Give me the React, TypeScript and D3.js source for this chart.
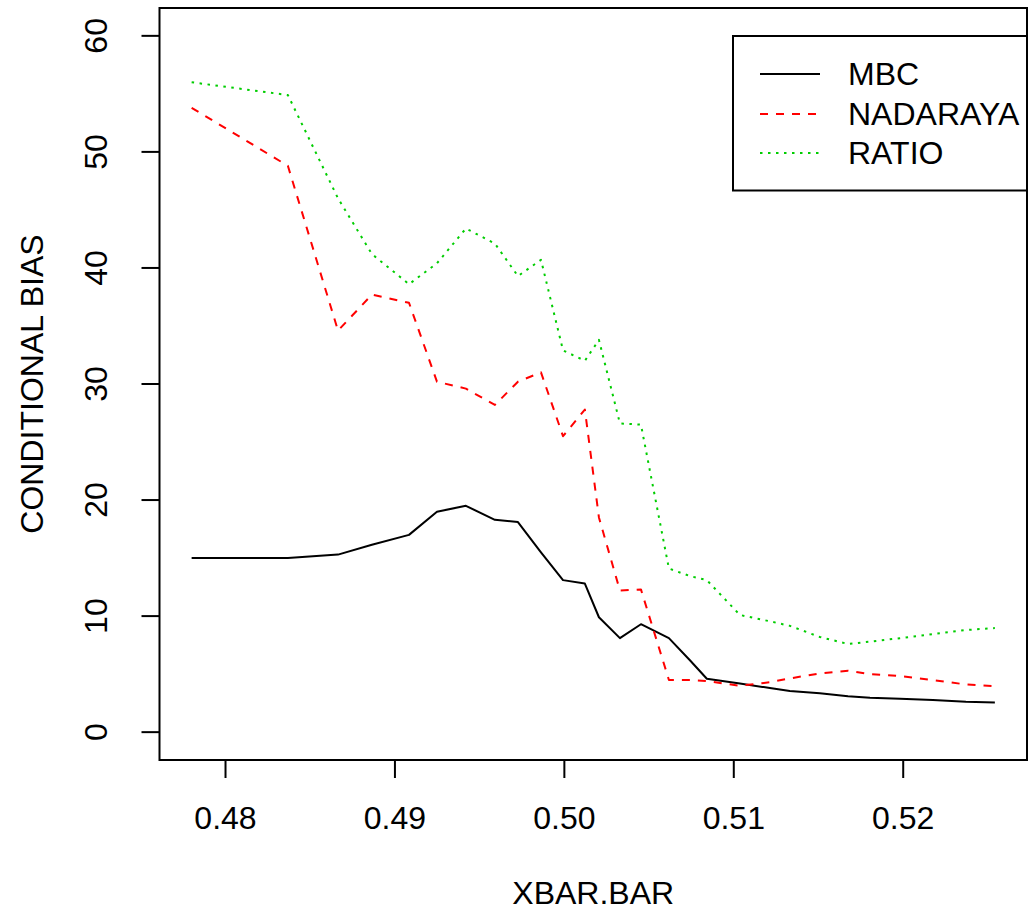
import React from "react";
import * as d3 from "d3";

// x positions (XBAR.BAR)
const xValues = [
  0.478, 0.48368, 0.48664, 0.48864, 0.49083, 0.49248, 0.49419, 0.4959, 0.49726,
  0.49862, 0.49992, 0.50121, 0.50204, 0.50328, 0.50452, 0.50617, 0.50741,
  0.50841, 0.51036, 0.51213, 0.51331, 0.51508, 0.51674, 0.51804, 0.51981,
  0.52175, 0.5237, 0.52541,
];
const mbc = [
  15.0, 15.0, 15.3, 16.15, 17.0, 19.0, 19.5, 18.3, 18.1, 15.5, 13.1, 12.8, 9.9,
  8.1, 9.3, 8.1, 6.2, 4.6, 4.2, 3.8, 3.55, 3.35, 3.1, 2.97, 2.88, 2.78, 2.63,
  2.56,
];
const nadaraya = [
  53.8, 48.8, 34.6, 37.7, 37.0, 30.2, 29.6, 28.2, 30.2, 31.0, 25.5, 27.8, 18.5,
  12.2, 12.3, 4.5, 4.5, 4.4, 4.0, 4.3, 4.63, 5.06, 5.3, 5.0, 4.83, 4.48, 4.11,
  3.97,
];
const ratio = [
  56.0, 54.9, 46.0, 41.2, 38.6, 40.4, 43.4, 42.1, 39.3, 40.7, 32.9, 32.0, 33.8,
  26.6, 26.5, 14.1, 13.45, 13.1, 10.1, 9.55, 9.16, 8.2, 7.6, 7.8, 8.1, 8.45, 8.8,
  8.97,
];
const xTicks = [0.48, 0.49, 0.5, 0.51, 0.52];
const xTickLabels = ["0.48", "0.49", "0.50", "0.51", "0.52"];
const yTicks = [0, 10, 20, 30, 40, 50, 60];
const seriesNames = ["MBC", "NADARAYA", "RATIO"];

const W = 1029;
const H = 913;
const box = { left: 159.5, right: 1027, top: 8, bottom: 760 };
const font = "'Liberation Sans', Arial, sans-serif";

export default function App() {
  const xMin = d3.min(xValues)!;
  const xMax = d3.max(xValues)!;
  const xPad = (xMax - xMin) * 0.04;
  const x = d3
    .scaleLinear()
    .domain([xMin - xPad, xMax + xPad])
    .range([box.left, box.right]);
  const yPad = 60 * 0.04;
  const y = d3
    .scaleLinear()
    .domain([0 - yPad, 60 + yPad])
    .range([box.bottom, box.top]);

  const line = (vals: number[]) =>
    d3
      .line<number>()
      .x((_, i) => x(xValues[i]))
      .y((v) => y(v))(vals) || "";

  const styles = [
    { stroke: "#000000", dash: undefined as string | undefined },
    { stroke: "#FF0000", dash: "8,8" },
    { stroke: "#00CD00", dash: "2.5,5.5" },
  ];
  const data = [mbc, nadaraya, ratio];

  const leg = { left: 733, right: 1027, top: 36, bottom: 190.5 };
  const legRows = [74, 114, 153];

  return (
    <svg
      width={W}
      height={H}
      style={{ position: "absolute", left: 0, top: 0, display: "block", background: "#fff" }}
      fontFamily={font}
    >
      <rect x={0} y={0} width={W} height={H} fill="#fff" />
      {data.map((vals, i) => (
        <path
          key={i}
          d={line(vals)}
          fill="none"
          stroke={styles[i].stroke}
          strokeWidth={2}
          strokeDasharray={styles[i].dash}
          strokeLinejoin="round"
        />
      ))}
      {/* plot box */}
      <rect
        x={box.left}
        y={box.top}
        width={box.right - box.left}
        height={box.bottom - box.top}
        fill="none"
        stroke="#000"
        strokeWidth={2}
      />
      {/* x axis */}
      {xTicks.map((t, i) => (
        <g key={t}>
          <line x1={x(t)} x2={x(t)} y1={box.bottom} y2={box.bottom + 18} stroke="#000" strokeWidth={2} />
          <text x={x(t)} y={818} dy="0.35em" textAnchor="middle" fontSize={32} fill="#000">
            {xTickLabels[i]}
          </text>
        </g>
      ))}
      {/* y axis */}
      {yTicks.map((t) => (
        <g key={t}>
          <line x1={box.left - 18} x2={box.left} y1={y(t)} y2={y(t)} stroke="#000" strokeWidth={2} />
          <text
            transform={`translate(96,${y(t)}) rotate(-90)`}
            dy="0.35em"
            textAnchor="middle"
            fontSize={32}
            fill="#000"
          >
            {t}
          </text>
        </g>
      ))}
      <text x={(box.left + box.right) / 2} y={893} dy="0.35em" textAnchor="middle" fontSize={32} fill="#000">
        XBAR.BAR
      </text>
      <text
        transform={`translate(32,${(box.top + box.bottom) / 2}) rotate(-90)`}
        dy="0.35em"
        textAnchor="middle"
        fontSize={32}
        fill="#000"
      >
        CONDITIONAL BIAS
      </text>
      {/* legend */}
      <rect
        x={leg.left}
        y={leg.top}
        width={leg.right - leg.left}
        height={leg.bottom - leg.top}
        fill="#fff"
        stroke="#000"
        strokeWidth={2}
      />
      {seriesNames.map((name, i) => (
        <g key={name}>
          <line
            x1={760}
            x2={820}
            y1={legRows[i]}
            y2={legRows[i]}
            stroke={styles[i].stroke}
            strokeWidth={2}
            strokeDasharray={styles[i].dash}
          />
          <text x={848} y={legRows[i]} dy="0.35em" fontSize={32} fill="#000">
            {name}
          </text>
        </g>
      ))}
    </svg>
  );
}
